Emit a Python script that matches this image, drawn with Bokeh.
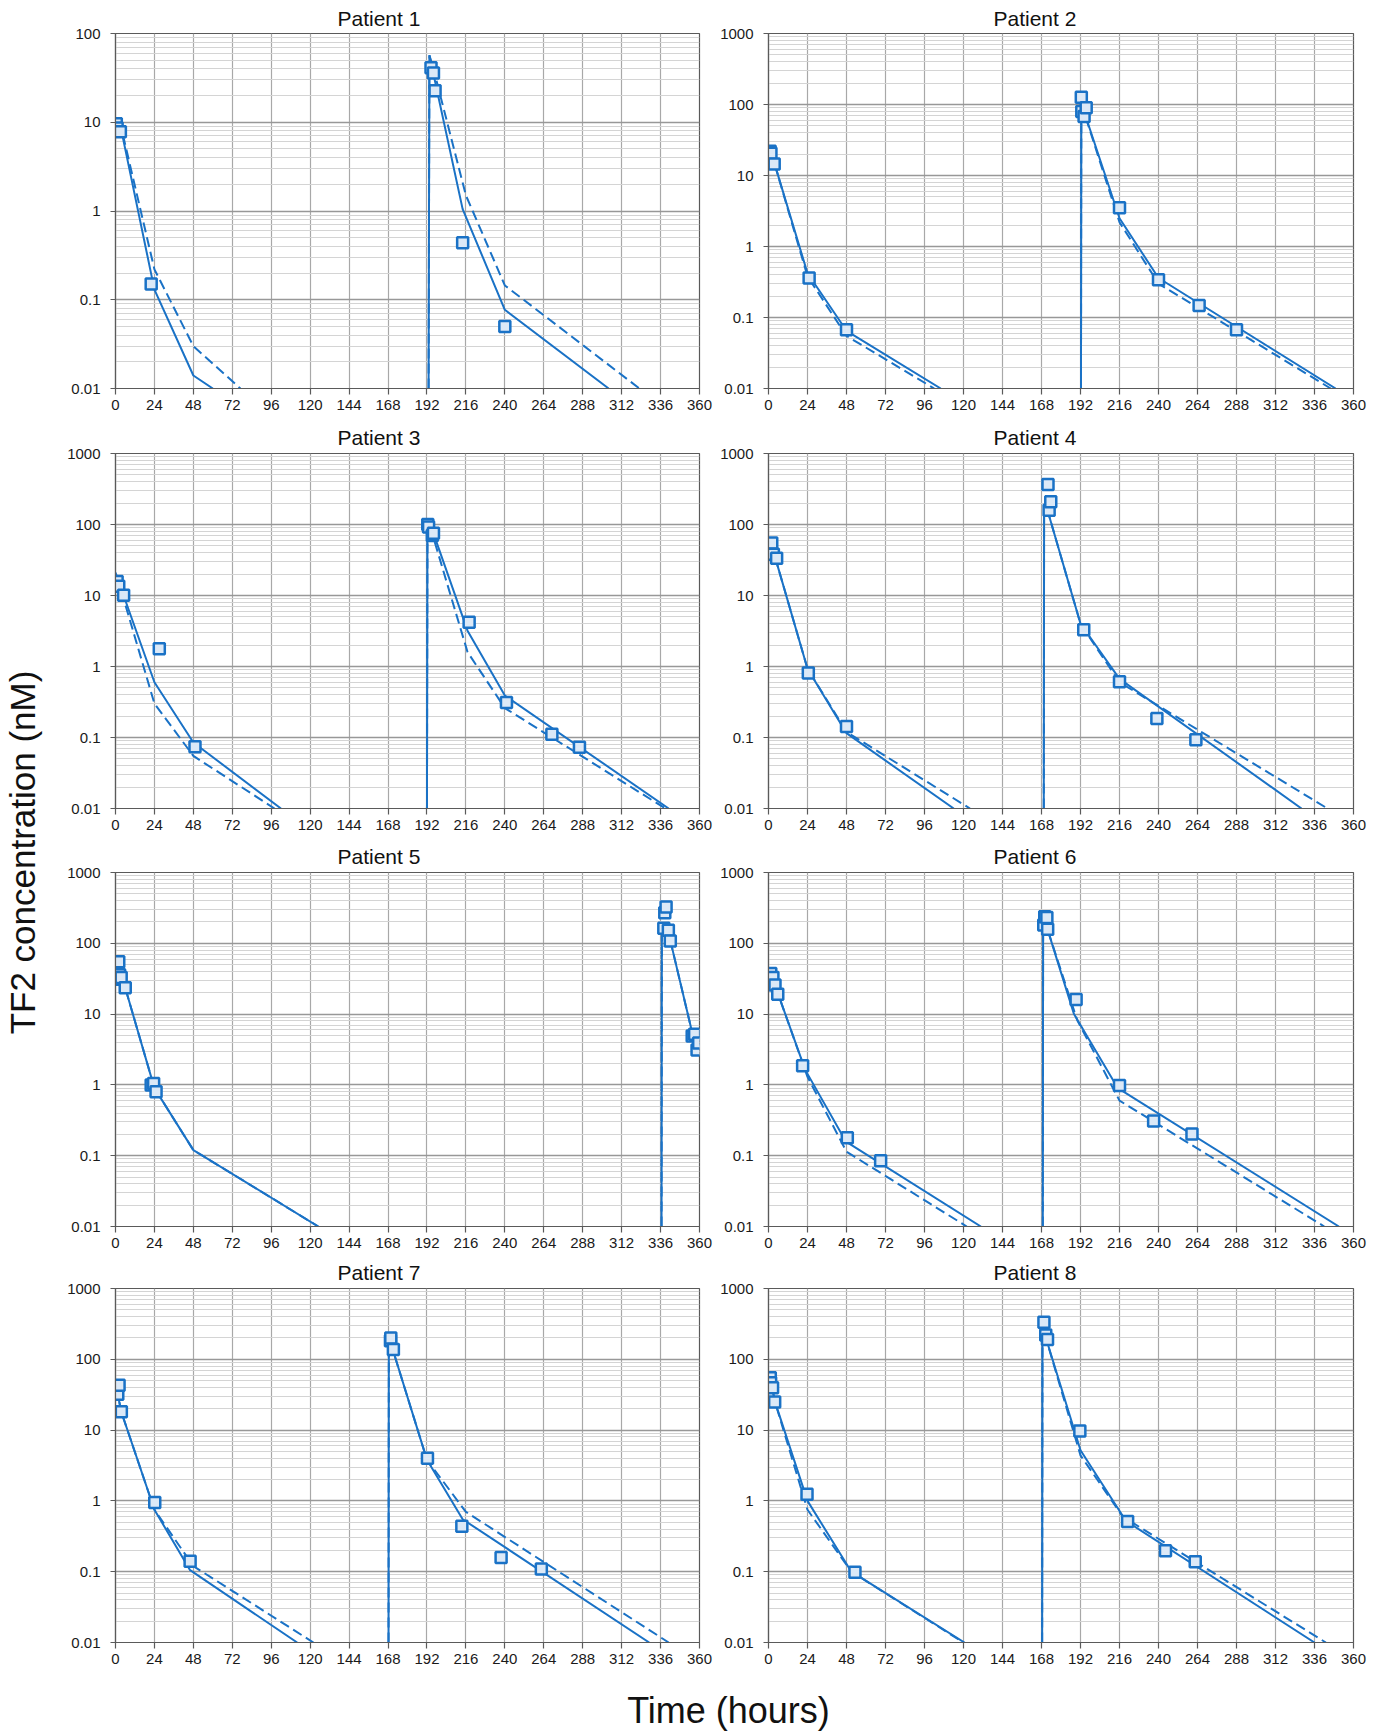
import math
from bokeh.plotting import figure
from bokeh.layouts import row, column
from bokeh.models import Range1d, FixedTicker, CustomJSTickFormatter
from bokeh.core.properties import value
from bokeh.embed import file_html
from bokeh.resources import INLINE

NAN = float("nan")

# ---------------- data ----------------
TITLES = ["Patient 1", "Patient 2", "Patient 3", "Patient 4",
          "Patient 5", "Patient 6", "Patient 7", "Patient 8"]
Y_MAX = [100, 1000, 1000, 1000, 1000, 1000, 1000, 1000]
X_LABEL = "Time (hours)"
Y_LABEL = "TF2 concentration (nM)"
X_TICKS = [0, 24, 48, 72, 96, 120, 144, 168, 192, 216, 240, 264, 288, 312, 336, 360]
Y_TICKS = [0.01, 0.1, 1, 10, 100, 1000]

# observed concentrations (squares)
P1_OBS_T = [0.5, 1, 3, 22, 194.5, 196, 197, 214, 240]
P1_OBS_C = [9.6, 8.6, 7.8, 0.15, 41, 36, 22.6, 0.44, 0.05]
P2_OBS_T = [1, 1.5, 3.5, 25, 48, 192.5, 192.8, 194.2, 195.5, 216, 240, 265, 288]
P2_OBS_C = [22, 20.5, 14.5, 0.36, 0.067, 127, 80, 68, 90, 3.5, 0.34, 0.148, 0.067]
P3_OBS_T = [1, 2, 5, 27, 49, 192.5, 193, 195.3, 196, 218, 241, 269, 286]
P3_OBS_C = [15.8, 13.5, 10.1, 1.78, 0.074, 100, 92, 70, 75, 4.2, 0.31, 0.111, 0.073]
P4_OBS_T = [2, 3, 5, 24.5, 48, 172, 172.7, 173.7, 194, 216, 239, 263]
P4_OBS_C = [55, 38, 33.5, 0.81, 0.143, 367, 159, 209, 3.3, 0.61, 0.185, 0.093]
P5_OBS_T = [1, 2, 2.5, 3.5, 6, 22, 23.5, 25, 338, 338.6, 339.4, 340.8, 342, 355.5, 357, 358.5, 359.5]
P5_OBS_C = [31, 55, 36, 33, 23.5, 1.0, 1.05, 0.8, 163, 271, 326, 153, 108, 4.9, 5.2, 3.1, 3.9]
P6_OBS_T = [1.4, 1.4, 2.7, 4, 5.7, 21, 48.5, 69, 169.4, 170, 171.3, 171.8, 189.3, 216, 237, 260.6]
P6_OBS_C = [37.5, 30, 33, 25.7, 19.1, 1.87, 0.18, 0.085, 181, 238, 232, 158, 16.1, 0.98, 0.31, 0.202]
P7_OBS_T = [0.8, 1.4, 2.2, 3.6, 24.2, 46, 169.5, 169.7, 171.3, 192.3, 213.5, 237.7, 262.5]
P7_OBS_C = [37.9, 32.2, 43, 18.1, 0.95, 0.14, 183, 200, 137, 4.0, 0.44, 0.159, 0.109]
P8_OBS_T = [1.1, 1.3, 2.5, 3.8, 23.7, 53.2, 169.5, 170.6, 171.7, 191.6, 221, 244.3, 262.6]
P8_OBS_C = [55, 46.6, 39.6, 25, 1.24, 0.098, 333, 220, 191, 9.7, 0.51, 0.198, 0.138]

# model 1 (solid line); NAN separates the two dosing periods
P1_M1_T = [0, 4, 24, 48, 60, NAN, 193, 193.5, 214, 240, 304]
P1_M1_C = [9.5, 7.5, 0.13, 0.014, 0.01, NAN, 0.01, 57, 1.05, 0.077, 0.01]
P2_M1_T = [0, 4, 24, 48, 106, NAN, 192.3, 192.5, 195, 216, 240, 349]
P2_M1_C = [22, 14, 0.42, 0.065, 0.01, NAN, 0.01, 80, 70, 2.5, 0.36, 0.01]
P3_M1_T = [0, 5, 24, 48, 102, NAN, 192, 192.3, 196, 217, 240, 341]
P3_M1_C = [21, 10, 0.6, 0.085, 0.01, NAN, 0.01, 100, 75, 3.2, 0.39, 0.01]
P4_M1_T = [2, 4, 24, 48, 114, NAN, 169.4, 169.6, 172, 192, 216, 328]
P4_M1_C = [55, 35, 0.93, 0.115, 0.01, NAN, 0.01, 160, 150, 4.0, 0.67, 0.01]
P5_M1_T = [1, 6, 24, 48, 125, NAN, 336.6, 336.8, 342, 356, 360]
P5_M1_C = [33, 23.5, 0.9, 0.12, 0.01, NAN, 0.01, 170, 110, 4.9, 3.5]
P6_M1_T = [1, 6, 22.6, 47.7, 130.7, NAN, 168.8, 169, 172, 188, 215, 351]
P6_M1_C = [38, 19, 1.63, 0.158, 0.01, NAN, 0.01, 200, 150, 10, 0.9, 0.01]
P7_M1_T = [0.5, 3.6, 24, 46, 112, NAN, 168.3, 168.5, 171, 192, 214, 329]
P7_M1_C = [40, 18, 0.75, 0.105, 0.01, NAN, 0.01, 170, 135, 3.8, 0.55, 0.01]
P8_M1_T = [1, 4, 24, 51, 120.6, NAN, 168.4, 168.6, 171, 192, 220, 336]
P8_M1_C = [55, 25, 1.0, 0.1, 0.01, NAN, 0.01, 250, 190, 5.2, 0.52, 0.01]

# model 2 (dashed line)
P1_M2_T = [0, 4, 24, 48, 77, NAN, 193, 193.5, 196, 216, 240, 323]
P1_M2_C = [10, 8, 0.22, 0.03, 0.01, NAN, 0.01, 57, 40, 1.5, 0.145, 0.01]
P2_M2_T = [0, 4, 24, 48, 102, NAN, 192.3, 192.5, 195, 216, 240, 346]
P2_M2_C = [22, 14, 0.38, 0.055, 0.01, NAN, 0.01, 80, 68, 2.2, 0.3, 0.01]
P3_M2_T = [0, 5, 24, 48, 98, NAN, 192, 192.3, 196, 217, 240, 339]
P3_M2_C = [18, 9, 0.3, 0.055, 0.01, NAN, 0.01, 95, 65, 1.6, 0.26, 0.01]
P4_M2_T = [2, 4, 24, 48, 124, NAN, 169.4, 169.6, 172, 192, 216, 344]
P4_M2_C = [55, 35, 0.93, 0.12, 0.01, NAN, 0.01, 160, 150, 4.0, 0.6, 0.01]
P5_M2_T = [1, 6, 24, 48, 125, NAN, 336.6, 336.8, 342, 356, 360]
P5_M2_C = [33, 23.5, 0.9, 0.12, 0.01, NAN, 0.01, 170, 110, 4.9, 3.5]
P6_M2_T = [1, 6, 24, 48, 122, NAN, 168.8, 169, 172, 190, 216, 342]
P6_M2_C = [38, 19, 1.3, 0.114, 0.01, NAN, 0.01, 200, 150, 8.2, 0.6, 0.01]
P7_M2_T = [0.5, 3.6, 24, 48, 122, NAN, 168.3, 168.5, 171, 192, 216, 341]
P7_M2_C = [40, 18, 0.75, 0.12, 0.01, NAN, 0.01, 170, 135, 3.8, 0.7, 0.01]
P8_M2_T = [1, 4, 24, 51, 120, NAN, 168.4, 168.6, 171, 192, 218, 343]
P8_M2_C = [55, 25, 0.75, 0.1, 0.01, NAN, 0.01, 250, 190, 4.4, 0.6, 0.01]

OBS_T = [P1_OBS_T, P2_OBS_T, P3_OBS_T, P4_OBS_T, P5_OBS_T, P6_OBS_T, P7_OBS_T, P8_OBS_T]
OBS_C = [P1_OBS_C, P2_OBS_C, P3_OBS_C, P4_OBS_C, P5_OBS_C, P6_OBS_C, P7_OBS_C, P8_OBS_C]
M1_T = [P1_M1_T, P2_M1_T, P3_M1_T, P4_M1_T, P5_M1_T, P6_M1_T, P7_M1_T, P8_M1_T]
M1_C = [P1_M1_C, P2_M1_C, P3_M1_C, P4_M1_C, P5_M1_C, P6_M1_C, P7_M1_C, P8_M1_C]
M2_T = [P1_M2_T, P2_M2_T, P3_M2_T, P4_M2_T, P5_M2_T, P6_M2_T, P7_M2_T, P8_M2_T]
M2_C = [P1_M2_C, P2_M2_C, P3_M2_C, P4_M2_C, P5_M2_C, P6_M2_C, P7_M2_C, P8_M2_C]

# ---------------- style / layout ----------------
BLUE = "#1a72c6"
FILL = "#dce9f7"
FONT = "Liberation Sans"
AXIS_GRAY = "#5a5a5a"

ROW_TOP = [33, 35, 35, 34]
ROW_FRAME = [355, 355, 354, 354]
ROW_BOTTOM = [30, 29, 28, 36]
TITLE_STANDOFF = [8, 10, 10, 9]
YLAB_W = 48
COL_BL = [67, 54]
COL_FRAME = [584, 585]
COL_BR = [15, 19]
COL_W = [COL_BL[k] + COL_FRAME[k] + COL_BR[k] for k in range(2)]
TITLE_OFF = [222, 225]


def panel(i):
    r, c = divmod(i, 2)
    height = ROW_TOP[r] + ROW_FRAME[r] + ROW_BOTTOM[r]
    ymax = Y_MAX[i]
    p = figure(width=COL_W[c], height=height,
               x_range=Range1d(0, 360), y_range=Range1d(0.01, ymax),
               y_axis_type="log", output_backend="svg", toolbar_location=None,
               min_border_left=COL_BL[c], min_border_right=COL_BR[c],
               min_border_top=ROW_TOP[r], min_border_bottom=ROW_BOTTOM[r])
    p.background_fill_color = "white"
    p.border_fill_color = "white"
    p.outline_line_color = AXIS_GRAY
    p.outline_line_width = 1.2

    p.title.text = TITLES[i]
    p.title.align = "left"
    p.title.offset = TITLE_OFF[c]
    p.title.standoff = TITLE_STANDOFF[r]
    p.title.text_font = FONT
    p.title.text_font_size = "21px"
    p.title.text_font_style = "normal"
    p.title.text_color = "#111111"

    xt = FixedTicker(ticks=X_TICKS)
    yt_major = [t for t in Y_TICKS if t <= ymax]
    yt_minor = [m * t for t in yt_major[:-1] for m in range(2, 10)]
    yt = FixedTicker(ticks=yt_major, minor_ticks=yt_minor)
    p.xaxis.ticker = xt
    p.yaxis.ticker = yt
    p.xgrid.ticker = xt
    p.ygrid.ticker = yt
    p.yaxis.formatter = CustomJSTickFormatter(code="return String(tick);")
    p.xaxis.formatter = CustomJSTickFormatter(code="return String(tick);")

    for ax in (p.xaxis, p.yaxis):
        ax.axis_line_color = AXIS_GRAY
        ax.axis_line_width = 1.2
        ax.major_tick_line_color = AXIS_GRAY
        ax.major_tick_line_width = 1.2
        ax.major_tick_in = 0
        ax.minor_tick_out = 0
        ax.minor_tick_in = 0
        ax.major_label_text_font = FONT
        ax.major_label_text_font_size = "15px"
        ax.major_label_text_color = "#1a1a1a"
    p.xaxis.major_tick_out = 6
    p.xaxis.major_label_standoff = 5
    p.yaxis.major_tick_out = 5
    p.yaxis.major_label_standoff = 10

    p.xgrid.grid_line_color = "#a8a8a8"
    p.xgrid.grid_line_width = 1.2
    p.ygrid.grid_line_color = "#989898"
    p.ygrid.grid_line_width = 1.4
    p.ygrid.minor_grid_line_color = "#d4d4d4"
    p.ygrid.minor_grid_line_width = 1

    p.line(M2_T[i], M2_C[i], line_color=BLUE, line_width=2.0, line_dash="10 5")
    p.line(M1_T[i], M1_C[i], line_color=BLUE, line_width=2.0)
    p.scatter(OBS_T[i], OBS_C[i], marker="square", size=11, line_width=2.5,
              line_color=BLUE, fill_color=FILL)
    return p


panels = [panel(i) for i in range(8)]
rows = [row(panels[2 * k], panels[2 * k + 1]) for k in range(4)]
grid = column(*rows)
grid_h = sum(ROW_TOP[k] + ROW_FRAME[k] + ROW_BOTTOM[k] for k in range(4))

yfig = figure(width=YLAB_W, height=grid_h, x_range=Range1d(0, YLAB_W), y_range=Range1d(0, grid_h),
              output_backend="svg", toolbar_location=None, min_border=0,
              x_axis_location=None, y_axis_location=None)
yfig.outline_line_color = None
yfig.grid.visible = False
yfig.text(x=[22], y=[grid_h - 852], text=[Y_LABEL], angle=math.pi / 2,
          text_align="center", text_baseline="middle",
          text_font=value(FONT), text_font_size="35px", text_color="#111111")

total_w = YLAB_W + COL_W[0] + COL_W[1]
xh = 1735 - grid_h
xfig = figure(width=total_w, height=xh, x_range=Range1d(0, total_w), y_range=Range1d(0, xh),
              output_backend="svg", toolbar_location=None, min_border=0,
              x_axis_location=None, y_axis_location=None)
xfig.outline_line_color = None
xfig.grid.visible = False
xfig.text(x=[728], y=[xh - (1710 - grid_h)], text=[X_LABEL],
          text_align="center", text_baseline="middle",
          text_font=value(FONT), text_font_size="36px", text_color="#111111")

layout = column(row(yfig, grid), xfig)
open("out.html", "w").write(file_html(layout, INLINE))
